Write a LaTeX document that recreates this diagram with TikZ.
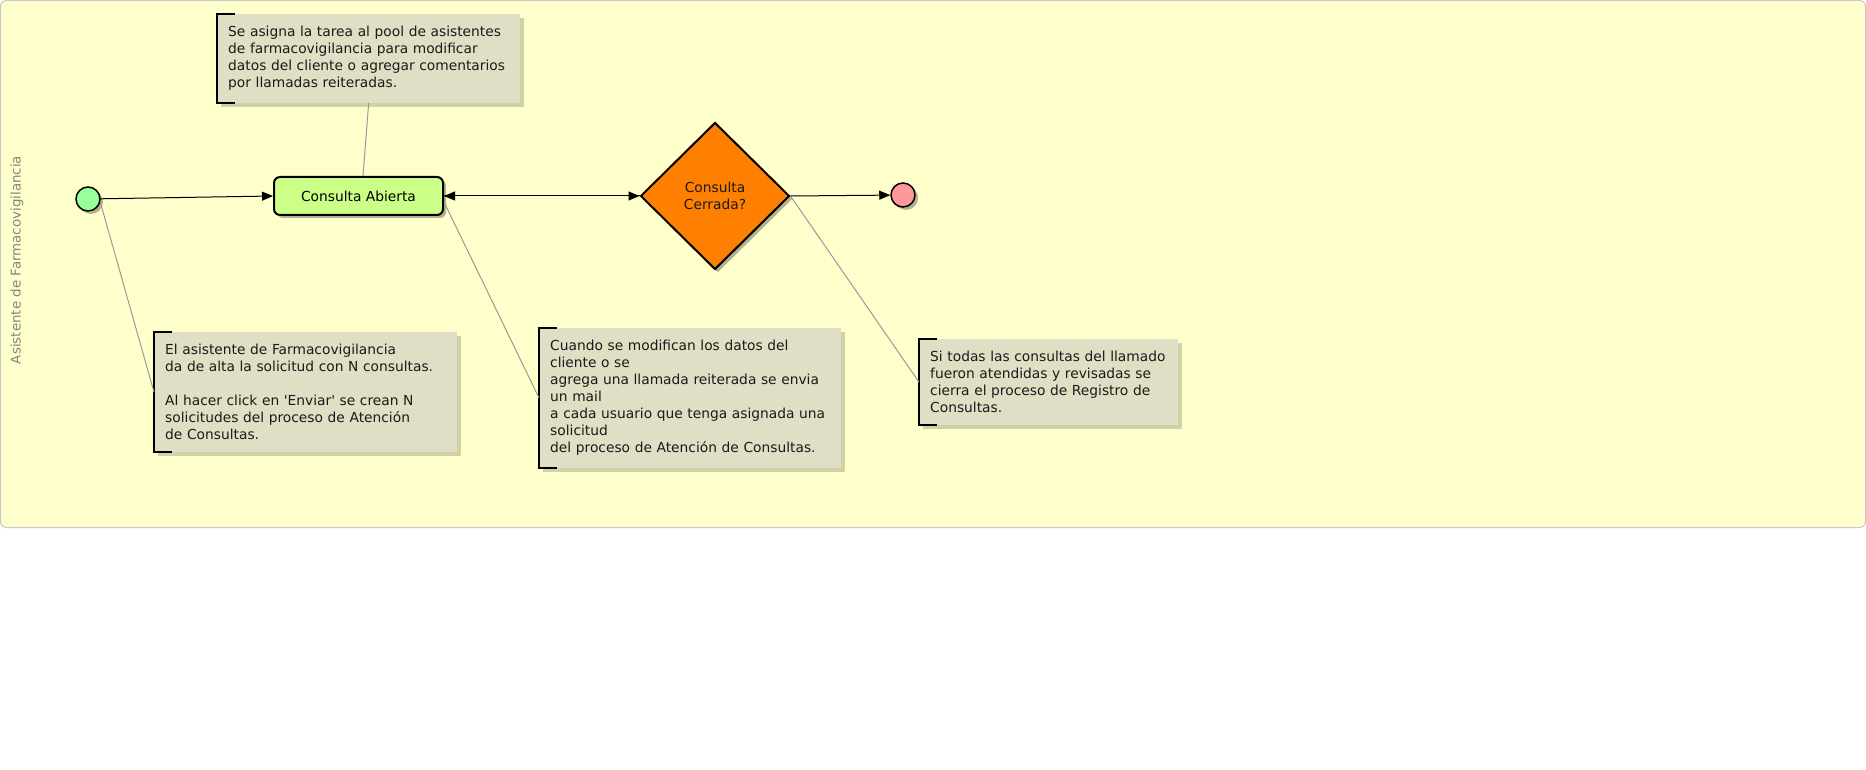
\documentclass[tikz,border=0pt]{standalone}
\usepackage{fontspec}
\setmainfont{DejaVu Sans}
\newfontfamily\nomapfont{DejaVu Sans}[Ligatures=ResetAll]
\usetikzlibrary{shapes.geometric,arrows.meta,shadows}
\definecolor{lanefill}{HTML}{FFFFCC}
\definecolor{laneborder}{HTML}{C8C8C8}
\definecolor{startfill}{HTML}{99FF99}
\definecolor{endfill}{HTML}{FF9999}
\definecolor{taskfill}{HTML}{CCFF88}
\definecolor{gatefill}{HTML}{FF8000}
\definecolor{notefill}{HTML}{E0DFC5}
\definecolor{notetext}{HTML}{1A1A1A}
\definecolor{assoc}{HTML}{9A9A9A}
\definecolor{lanetext}{HTML}{858585}
\newcommand{\notefont}{\fontsize{13.8}{17}\selectfont}
\newcommand{\labfont}{\fontsize{13.8}{16.7}\selectfont}
\newcommand{\lanefont}{\fontsize{13.4}{16}\selectfont}
\newcommand{\sq}{{\nomapfont\char39}}
\tikzset{
 shad/.style={drop shadow={shadow xshift=3pt,shadow yshift=-3pt,opacity=0.3,fill=black}},
 evt/.style={circle,draw=black,line width=1.5pt,minimum size=24pt,inner sep=0pt,shad},
 task/.style={rectangle,rounded corners=6pt,draw=black,line width=2pt,fill=taskfill,minimum width=169pt,minimum height=38pt,font=\labfont,text=black,shad},
 gate/.style={diamond,draw=black,line width=2pt,fill=gatefill,minimum width=149pt,minimum height=147pt,inner sep=0pt,align=center,font=\labfont,text=notetext,shad},
 note/.style={rectangle,fill=notefill,anchor=north west,inner xsep=11pt,inner ysep=12pt,align=left,font=\notefont,text=notetext,drop shadow={shadow xshift=4pt,shadow yshift=-4pt,opacity=0.18,fill=black}},
 bracket/.style={draw=black,line width=2.5pt},
 flow/.style={draw=black,line width=1pt,-{Triangle[length=11pt,width=9pt]}},
 assocline/.style={draw=assoc,line width=1pt},
}
\begin{document}
\begin{tikzpicture}[x=1pt,y=-1pt]
\useasboundingbox (0,0) rectangle (1866,770);
\fill[white] (0,0) rectangle (1866,770);
\draw[draw=laneborder,fill=lanefill,rounded corners=6pt,line width=1pt] (0.5,0.5) rectangle (1865.5,527.5);
\node[rotate=90,text=lanetext,font=\lanefont] (lbl) at (17,260) {Asistente de Farmacovigilancia};

\node[note,text width=281pt] (ntop) at (217,14) {Se asigna la tarea al pool de asistentes\\de farmacovigilancia para modificar\\datos del cliente o agregar comentarios\\por llamadas reiteradas.};
\node[note,text width=281pt] (nleft) at (154,332) {El asistente de Farmacovigilancia\\da de alta la solicitud con N consultas.\\[17pt]Al hacer click en \sq Enviar\sq{} se crean N\\solicitudes del proceso de Atención\\de Consultas.};
\node[note,text width=280pt] (nmid) at (539,328) {Cuando se modifican los datos del\\cliente o se\\agrega una llamada reiterada se envia\\un mail\\a cada usuario que tenga asignada una\\solicitud\\del proceso de Atención de Consultas.};
\node[note,text width=237pt] (nright) at (919,339) {Si todas las consultas del llamado\\fueron atendidas y revisadas se\\cierra el proceso de Registro de\\Consultas.};
\foreach \n in {ntop,nleft,nmid,nright}{
 \draw[bracket] ([xshift=18pt]\n.north west) -- (\n.north west) -- (\n.south west) -- ([xshift=18pt]\n.south west);
}

\node[evt,fill=startfill] (s) at (88,199) {};
\node[task] (a) at (358.5,196) {Consulta Abierta};
\node[gate] (g) at (715,196) {Consulta\\Cerrada?};
\node[evt,fill=endfill] (e) at (903,195) {};

\draw[assocline] (ntop.south) -- ([xshift=4.5pt]a.north);
\draw[assocline] (s.-15) -- (nleft.west);
\draw[assocline] ([yshift=-6pt]a.east) -- (nmid.west);
\draw[assocline] (g.east) -- (nright.west);

\draw[flow] (s) -- (a.west);
\draw[flow] (a.east) -- (g.west);
\draw[flow] (g.west) -- (a.east);
\draw[flow] (g.east) -- (e);
\end{tikzpicture}
\end{document}
